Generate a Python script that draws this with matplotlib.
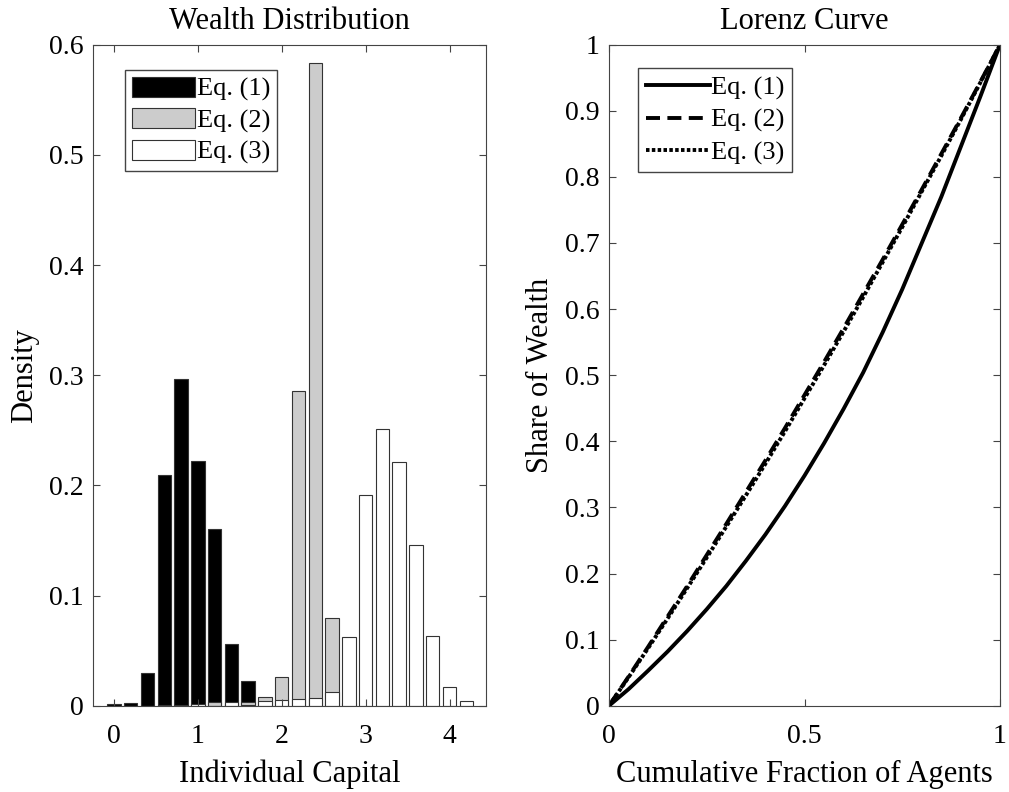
import numpy as np
import matplotlib
matplotlib.use("Agg")
import matplotlib.pyplot as plt
from matplotlib.ticker import FuncFormatter

plt.rcParams['font.family'] = ['Liberation Serif', 'DejaVu Serif']
plt.rcParams['font.size'] = 19

# histogram bins (centres) and densities
capital = [0.0, 0.2, 0.4, 0.6, 0.8, 1.0, 1.2, 1.4, 1.6, 1.8, 2.0,
           2.2, 2.4, 2.6, 2.8, 3.0, 3.2, 3.4, 3.6, 3.8, 4.0, 4.2]
dens_eq1 = [0.0015, 0.002, 0.030, 0.209, 0.297, 0.222, 0.160, 0.056, 0.022, 0.001, 0,
            0, 0, 0, 0, 0, 0, 0, 0, 0, 0, 0]
dens_eq2 = [0, 0, 0, 0.0005, 0.001, 0.001, 0.003, 0.0015, 0.0036, 0.0076, 0.0258,
            0.286, 0.583, 0.080, 0.002, 0, 0, 0, 0, 0, 0, 0]
dens_eq3 = [0, 0, 0, 0, 0, 0.0015, 0, 0.003, 0.001, 0.0045, 0.005,
            0.006, 0.0067, 0.0124, 0.062, 0.191, 0.251, 0.221, 0.146, 0.063, 0.0167, 0.0043]

# Lorenz curves
frac_agents = [0, 0.05, 0.1, 0.15, 0.2, 0.25, 0.3, 0.35, 0.4, 0.45, 0.5,
               0.55, 0.6, 0.65, 0.7, 0.75, 0.8, 0.85, 0.9, 0.95, 1.0]
lorenz_eq1 = [0, 0.025, 0.053, 0.082, 0.113, 0.146, 0.181, 0.219, 0.259, 0.302, 0.348,
              0.397, 0.449, 0.504, 0.565, 0.630, 0.700, 0.770, 0.846, 0.922, 1.0]
lorenz_eq2 = [0, 0.044, 0.089, 0.135, 0.181, 0.228, 0.275, 0.323, 0.371, 0.420, 0.470,
              0.520, 0.571, 0.623, 0.675, 0.728, 0.781, 0.835, 0.889, 0.944, 1.0]
lorenz_eq3 = [0, 0.043, 0.087, 0.132, 0.178, 0.224, 0.271, 0.318, 0.366, 0.415, 0.465,
              0.515, 0.566, 0.618, 0.671, 0.724, 0.778, 0.832, 0.887, 0.943, 1.0]

labels = ['Eq. (1)', 'Eq. (2)', 'Eq. (3)']

fig = plt.figure(figsize=(10.09, 7.92), dpi=100)
ax1 = fig.add_axes([93 / 1009, 86.3 / 792, 393 / 1009, 661 / 792])
ax2 = fig.add_axes([609 / 1009, 86.3 / 792, 391 / 1009, 661 / 792])

def matlab_style(ax):
    for s in ax.spines.values():
        s.set_color('#444444')
        s.set_linewidth(0.8)
    ax.tick_params(direction='in', length=5, width=0.8, color='#444444',
                   top=True, right=True, labelsize=20)
    ax.tick_params(axis='x', pad=13)
    ax.tick_params(axis='y', pad=7)

fmt = FuncFormatter(lambda v, p: '%g' % round(v, 3))

# left: wealth distribution
w = 0.16
ax1.bar(capital, dens_eq1, width=w, color='black', edgecolor='#333333', linewidth=0.8, label=labels[0])
ax1.bar(capital, dens_eq2, width=w, color='#cccccc', edgecolor='#333333', linewidth=0.8, label=labels[1])
ax1.bar(capital, dens_eq3, width=w, color='white', edgecolor='#333333', linewidth=0.8, label=labels[2])
ax1.set_xlim(-0.25, 4.435)
ax1.set_ylim(0, 0.6)
ax1.set_xticks([0, 1, 2, 3, 4])
ax1.set_yticks(np.arange(0, 0.61, 0.1))
ax1.yaxis.set_major_formatter(fmt)
ax1.set_title('Wealth Distribution', fontsize=22, pad=11)
ax1.set_xlabel('Individual Capital', fontsize=22, labelpad=8)
ax1.set_ylabel('Density', fontsize=22, labelpad=7)
matlab_style(ax1)
ax1.legend(loc='upper left', bbox_to_anchor=(0.0814, 0.9617), borderaxespad=0,
           fancybox=False, framealpha=1, edgecolor='#444444', fontsize=19,
           handlelength=2.4, handleheight=0.8, handletextpad=0.08,
           labelspacing=0.26, borderpad=0.25)

# right: Lorenz curve
ax2.plot(frac_agents, lorenz_eq1, color='black', lw=2.8, ls='-', label=labels[0])
ax2.plot(frac_agents, lorenz_eq2, color='black', lw=2.8, ls=(0, (3.6, 1.9)), label=labels[1])
ax2.plot(frac_agents, lorenz_eq3, color='black', lw=2.8, ls=(0, (0.9, 0.6)), label=labels[2])
ax2.set_xlim(0, 1)
ax2.set_ylim(0, 1)
ax2.set_xticks([0, 0.5, 1])
ax2.set_yticks(np.arange(0, 1.01, 0.1))
ax2.xaxis.set_major_formatter(fmt)
ax2.yaxis.set_major_formatter(fmt)
ax2.set_title('Lorenz Curve', fontsize=22, pad=11)
ax2.set_xlabel('Cumulative Fraction of Agents', fontsize=22, labelpad=8)
ax2.set_ylabel('Share of Wealth', fontsize=22, labelpad=7)
matlab_style(ax2)
ax2.legend(loc='upper left', bbox_to_anchor=(0.0754, 0.9647), borderaxespad=0,
           fancybox=False, framealpha=1, edgecolor='#444444', fontsize=19,
           handlelength=2.4, handletextpad=0.05, labelspacing=0.32, borderpad=0.3)

fig.savefig('out.png', dpi=100)
